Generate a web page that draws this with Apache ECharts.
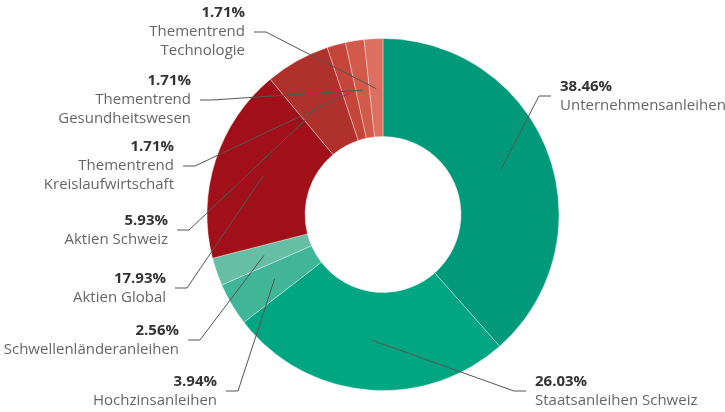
<!DOCTYPE html>
<html>
<head>
<meta charset="utf-8">
<script src="https://cdn.jsdelivr.net/npm/echarts@6/dist/echarts.min.js"></script>
<style>
  html, body { margin: 0; padding: 0; background: #fff; }
  #chart { width: 725px; height: 412px; }
</style>
</head>
<body>
<div id="chart"></div>
<script>
// Kategorien und Anteile (im Uhrzeigersinn ab 12 Uhr)
var names = [
  'Unternehmensanleihen',
  'Staatsanleihen Schweiz',
  'Hochzinsanleihen',
  'Schwellenländeranleihen',
  'Aktien Global',
  'Aktien Schweiz',
  'Thementrend\nKreislaufwirtschaft',
  'Thementrend\nGesundheitswesen',
  'Thementrend\nTechnologie'
];
var values = [38.46, 26.03, 3.94, 2.56, 17.93, 5.93, 1.71, 1.71, 1.71];
var colors = ['#009a7a', '#00a582', '#40b598', '#66bfa5', '#a11018', '#b0302c', '#c4453a', '#d15a4a', '#dc7060'];

// Position der Beschriftungen: Kante (x), vertikale Mitte (y), Ausrichtung
var labelPos = [
  [560, 96, 'left'],
  [535, 391, 'left'],
  [217, 391, 'right'],
  [179, 340, 'right'],
  [166, 288, 'right'],
  [168, 230, 'right'],
  [174, 166, 'right'],
  [191, 100, 'right'],
  [245, 32, 'right']
];

var cx = 383, cy = 214.5, rIn = 78, rOut = 176, rLine = 126;

var myChart = echarts.init(document.getElementById('chart'));

// Führungslinien: Start in der Mitte des Segments (Mittelwinkel, halber Ring)
var total = values.reduce(function (a, b) { return a + b; }, 0);
var cum = 0;
var guideLines = values.map(function (v, i) {
  var a = (90 - (cum + v / 2) / total * 360) * Math.PI / 180;
  cum += v;
  var lp = labelPos[i];
  var dir = lp[2] === 'right' ? 1 : -1;
  var e1 = lp[0] + dir * 9;
  var e2 = e1 + dir * 12;
  return {
    type: 'polyline',
    silent: true,
    z: 10,
    shape: { points: [[cx + rLine * Math.cos(a), cy - rLine * Math.sin(a)], [e2, lp[1]], [e1, lp[1]]] },
    style: { fill: null, stroke: '#555', lineWidth: 1 }
  };
});

var option = {
  animation: false,
  color: colors,
  graphic: guideLines,
  series: [{
    type: 'pie',
    center: [cx, cy],
    radius: [rIn, rOut],
    startAngle: 90,
    clockwise: true,
    avoidLabelOverlap: false,
    silent: true,
    itemStyle: {
      borderColor: 'rgba(255,255,255,0.6)',
      borderWidth: 0.6
    },
    data: names.map(function (n, i) {
      return { name: n, value: values[i] };
    }),
    label: {
      show: true,
      position: 'outside',
      fontFamily: 'Open Sans',
      lineHeight: 19,
      formatter: function (p) {
        var lines = p.name.split('\n').map(function (l) { return '{n|' + l + '}'; });
        return '{p|' + p.value.toFixed(2) + '%}\n' + lines.join('\n');
      },
      rich: {
        p: { fontSize: 15, fontWeight: 'bold', color: '#333', lineHeight: 19, fontFamily: 'Open Sans' },
        n: { fontSize: 15, color: '#666', lineHeight: 19, fontFamily: 'Open Sans' }
      }
    },
    labelLine: { show: false },
    labelLayout: function (params) {
      var lp = labelPos[params.dataIndex];
      return {
        x: lp[0],
        y: lp[1],
        align: lp[2],
        verticalAlign: 'middle'
      };
    }
  }]
};

myChart.setOption(option);
window.addEventListener('resize', function () { myChart.resize(); });
</script>
</body>
</html>
